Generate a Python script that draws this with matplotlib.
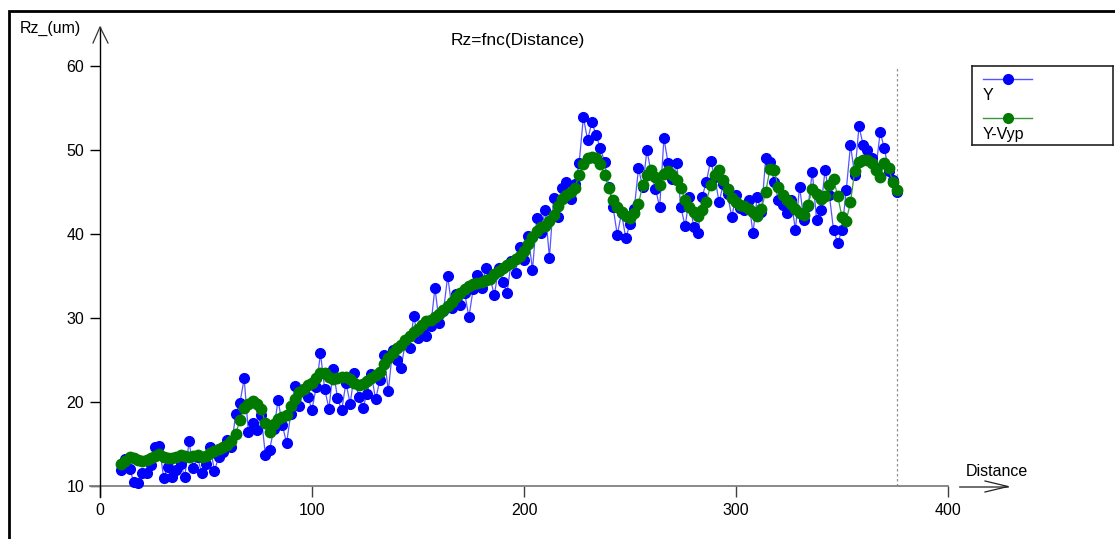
import matplotlib
matplotlib.use("Agg")
import matplotlib.pyplot as plt
from matplotlib.lines import Line2D
from matplotlib.patches import Rectangle

plt.rcParams['font.family'] = ['Liberation Sans', 'DejaVu Sans']

# measured Rz along the distance, raw (Y) and smoothed (Y-Vyp)
distance = [10, 12, 14, 16, 18, 20, 22, 24, 26, 28, 30, 32, 34, 36, 38, 40, 42, 44, 46, 48,
            50, 52, 54, 56, 58, 60, 62, 64, 66, 68, 70, 72, 74, 76, 78, 80, 82, 84, 86, 88,
            90, 92, 94, 96, 98, 100, 102, 104, 106, 108, 110, 112, 114, 116, 118, 120, 122, 124, 126, 128,
            130, 132, 134, 136, 138, 140, 142, 144, 146, 148, 150, 152, 154, 156, 158, 160, 162, 164, 166, 168,
            170, 172, 174, 176, 178, 180, 182, 184, 186, 188, 190, 192, 194, 196, 198, 200, 202, 204, 206, 208,
            210, 212, 214, 216, 218, 220, 222, 224, 226, 228, 230, 232, 234, 236, 238, 240, 242, 244, 246, 248,
            250, 252, 254, 256, 258, 260, 262, 264, 266, 268, 270, 272, 274, 276, 278, 280, 282, 284, 286, 288,
            290, 292, 294, 296, 298, 300, 302, 304, 306, 308, 310, 312, 314, 316, 318, 320, 322, 324, 326, 328,
            330, 332, 334, 336, 338, 340, 342, 344, 346, 348, 350, 352, 354, 356, 358, 360, 362, 364, 366, 368,
            370, 372, 374, 376]

rz_y = [11.9, 13.2, 12.0, 10.5, 10.3, 11.6, 11.5, 12.5, 14.7, 14.8, 11.0, 12.3, 11.1, 11.9, 12.6, 11.1, 15.3, 12.1, 13.4, 11.5,
        12.6, 14.6, 11.8, 13.5, 14.0, 15.5, 14.6, 18.6, 19.9, 22.8, 16.4, 17.5, 16.7, 18.5, 13.7, 14.3, 16.8, 20.2, 17.3, 15.1,
        18.6, 21.9, 19.5, 21.6, 20.6, 19.1, 21.8, 25.8, 21.5, 19.2, 23.9, 20.5, 19.0, 22.3, 19.8, 23.4, 20.6, 19.3, 21.0, 23.3,
        20.3, 22.6, 25.6, 21.3, 26.2, 25.0, 24.0, 27.1, 26.4, 30.2, 27.6, 28.5, 27.8, 29.0, 33.6, 29.4, 30.8, 35.0, 31.2, 32.9,
        31.6, 33.0, 30.1, 33.4, 35.1, 33.6, 36.0, 34.8, 32.7, 35.9, 34.3, 33.0, 36.8, 35.4, 38.4, 36.9, 39.8, 35.7, 41.9, 40.1,
        42.9, 37.2, 44.3, 42.0, 45.5, 46.2, 44.2, 46.0, 48.4, 53.9, 51.2, 53.3, 51.8, 50.2, 48.6, 45.6, 43.2, 39.9, 42.5, 39.5,
        41.2, 43.0, 47.8, 45.6, 50.0, 47.2, 45.4, 43.2, 51.4, 48.4, 46.5, 48.4, 43.2, 40.9, 44.4, 40.8, 40.1, 44.4, 46.2, 48.7,
        46.8, 43.8, 45.9, 44.8, 42.0, 44.6, 43.1, 42.9, 44.0, 40.1, 44.4, 42.6, 49.0, 48.6, 46.2, 44.0, 43.5, 42.5, 44.1, 40.5,
        45.6, 41.7, 43.3, 47.4, 41.7, 42.9, 47.6, 44.7, 40.5, 38.9, 40.5, 45.2, 50.6, 47.0, 52.8, 50.6, 50.0, 49.0, 47.8, 52.1,
        50.2, 47.5, 46.4, 45.0]

rz_smooth = [12.6, 13.0, 13.5, 13.3, 13.1, 13.0, 13.1, 13.3, 13.6, 13.8, 13.5, 13.3, 13.3, 13.5, 13.7, 13.6, 13.5, 13.6, 13.7, 13.5,
             13.6, 13.9, 14.2, 14.4, 14.6, 14.9, 15.3, 16.2, 17.8, 19.3, 19.8, 20.1, 19.8, 19.2, 17.5, 16.4, 17.4, 18.0, 18.2, 18.5,
             19.5, 20.4, 21.2, 21.6, 22.0, 22.3, 22.8, 23.5, 23.4, 23.0, 22.7, 22.8, 23.0, 23.0, 22.7, 22.3, 22.0, 22.2, 22.5, 22.8,
             23.2, 23.6, 24.5, 25.2, 25.8, 26.4, 26.8, 27.4, 27.9, 28.3, 28.7, 29.2, 29.6, 29.8, 30.1, 30.5, 31.0, 31.4, 31.9, 32.5,
             33.0, 33.5, 33.8, 34.0, 34.2, 34.3, 34.5, 34.7, 35.2, 35.6, 36.0, 36.3, 36.6, 37.0, 37.4, 38.0, 38.8, 39.6, 40.3, 40.8,
             41.0, 41.6, 42.3, 43.3, 44.2, 44.6, 45.0, 45.5, 47.0, 48.3, 49.0, 49.2, 49.0, 48.3, 47.0, 45.5, 44.0, 43.2, 42.6, 42.2,
             41.9, 42.5, 43.6, 45.8, 47.0, 47.6, 46.8, 45.8, 47.2, 47.5, 47.0, 46.4, 45.5, 44.0, 43.2, 42.6, 42.2, 42.8, 43.8, 45.8,
             47.0, 47.6, 46.4, 45.3, 44.3, 43.8, 43.5, 43.3, 43.0, 42.6, 42.2, 43.0, 45.0, 47.7, 47.6, 45.6, 44.6, 44.0, 43.6, 43.0,
             42.5, 42.3, 43.5, 45.3, 44.8, 44.2, 44.5, 45.8, 46.5, 44.5, 42.0, 41.6, 43.8, 47.5, 48.6, 48.8, 48.8, 48.5, 47.6, 46.8,
             48.4, 47.8, 46.2, 45.2]

x_ticks = [0, 100, 200, 300, 400]
y_ticks = [10, 20, 30, 40, 50, 60]

W, H = 1115, 539
fig = plt.figure(figsize=(W / 100, H / 100), dpi=100)

# outer black frame (only left and top edges are visible)
fig.add_artist(Rectangle((9 / W, -0.1), 1.2, 1.1 - 11 / H, transform=fig.transFigure,
                         fill=False, edgecolor='black', linewidth=2))

ax = fig.add_axes([100 / W, 1 - 486 / H, 848 / W, 420 / H])
ax.set_xlim(0, 400)
ax.set_ylim(10, 60)
for s in ax.spines.values():
    s.set_visible(False)

ax.plot(distance, rz_y, color='#5555ff', linewidth=0.9, marker='o', markersize=7,
        markerfacecolor='#0000ff', markeredgecolor='#0000ff', clip_on=False, zorder=3)
ax.plot(distance, rz_smooth, color='#3a9a3a', linewidth=0.9, marker='o', markersize=7.5,
        markerfacecolor='#007a00', markeredgecolor='#007a00', clip_on=False, zorder=4)

# dotted line at the last distance
ax.axvline(max(distance), ymin=0, ymax=(486 - 68) / 420, color='#909090',
           linestyle=(0, (2, 2)), linewidth=0.9)

ax.set_xticks(x_ticks)
ax.set_yticks(y_ticks)
ax.tick_params(axis='both', direction='out', length=7.5, width=1, color='black',
               labelsize=11.5, pad=4)
ax.tick_params(axis='x', length=8, color='#404040')

# axes lines with open arrows
ax.add_line(Line2D([-10 / 848, 1], [0, 0], transform=ax.transAxes, color='#808080',
                   linewidth=1.3, clip_on=False))
ax.add_line(Line2D([0, 0], [-11 / 420, 459 / 420], transform=ax.transAxes, color='black',
                   linewidth=1, clip_on=False))
ax.add_line(Line2D([-7 / 848, 0, 8 / 848], [443 / 420, 459 / 420, 443 / 420],
                   transform=ax.transAxes, color='#333333', linewidth=0.9, clip_on=False))
ax.add_line(Line2D([860 / 848, 908 / 848], [-0.5 / 420, -0.5 / 420], transform=ax.transAxes,
                   color='#555555', linewidth=1.2, clip_on=False))
ax.add_line(Line2D([885 / 848, 908 / 848, 885 / 848], [5 / 420, -0.5 / 420, -6 / 420],
                   transform=ax.transAxes, color='#222222', linewidth=0.9, clip_on=False))

fig.text(20 / W, 1 - 28 / H, 'Rz_(um)', fontsize=11.5, ha='left', va='center')
fig.text(997 / W, 1 - 471 / H, 'Distance', fontsize=11.5, ha='center', va='center')
fig.text(518 / W, 1 - 40 / H, 'Rz=fnc(Distance)', fontsize=12.5, ha='center', va='center')

# legend box drawn by hand
lg = fig.add_axes([972 / W, 1 - 145 / H, 141 / W, 79 / H])
lg.set_xlim(0, 141)
lg.set_ylim(79, 0)
lg.set_xticks([])
lg.set_yticks([])
for s in lg.spines.values():
    s.set_linewidth(1.2)
    s.set_color('#222222')
lg.plot([11, 60], [13, 13], color='#5555ff', linewidth=1)
lg.plot([36], [13], 'o', color='#0000ff', markersize=7)
lg.text(11, 29, 'Y', fontsize=11.5, va='center')
lg.plot([11, 60], [52, 52], color='#3a9a3a', linewidth=1)
lg.plot([36], [52], 'o', color='#007a00', markersize=7)
lg.text(11, 68, 'Y-Vyp', fontsize=11.5, va='center')

fig.savefig('out.png', dpi=100)
